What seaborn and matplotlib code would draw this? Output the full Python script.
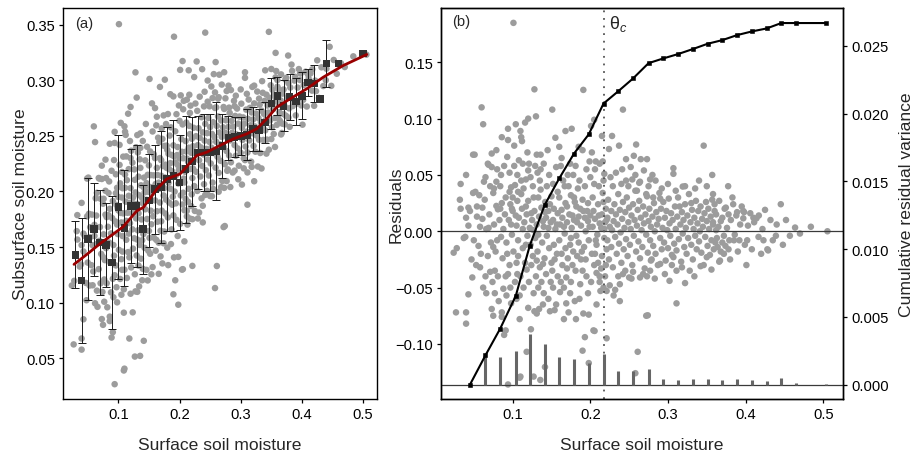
import numpy as np
import pandas as pd
import matplotlib
matplotlib.use("Agg")
import matplotlib.pyplot as plt
import seaborn as sns

# ---------------- data ----------------
# loess-like fit of subsurface vs surface soil moisture (red line, panel a)
fit_x = [0.0276, 0.050, 0.070, 0.090, 0.108, 0.130, 0.141, 0.163, 0.179, 0.2008,
         0.228, 0.2444, 0.266, 0.288, 0.310, 0.326, 0.3425, 0.3588, 0.3806, 0.4078,
         0.435, 0.4677, 0.506]
fit_y = [0.1344, 0.1440, 0.1530, 0.1610, 0.1683, 0.1824, 0.1857, 0.2022, 0.2112, 0.2157,
         0.2323, 0.2353, 0.2413, 0.2473, 0.2518, 0.2563, 0.2653, 0.2758, 0.2833, 0.2923,
         0.3028, 0.3133, 0.3232]

# observations as (surface soil moisture, residual from the fit)
pts_dry = [(0.024, -0.019), (0.028, -0.015), (0.027, -0.072), (0.032, 0.028), (0.033, 0.042),
           (0.033, 0.020), (0.037, -0.006), (0.039, -0.005), (0.040, 0.050), (0.040, 0.012),
           (0.040, -0.072), (0.040, -0.082), (0.043, -0.056), (0.043, 0.005), (0.043, 0.021),
           (0.048, -0.041), (0.049, 0.034), (0.049, 0.068), (0.051, 0.068), (0.052, 0.035),
           (0.054, 0.022), (0.054, 0.013), (0.056, -0.013), (0.057, 0.032), (0.058, -0.032),
           (0.060, 0.110), (0.061, 0.021), (0.061, 0.011), (0.062, -0.050), (0.063, 0.044),
           (0.066, 0.002), (0.066, -0.055), (0.068, 0.060), (0.069, 0.059), (0.070, 0.015),
           (0.071, -0.036), (0.072, -0.010), (0.073, 0.069), (0.073, 0.057), (0.073, -0.069),
           (0.075, 0.034), (0.075, -0.014), (0.075, -0.075), (0.076, 0.038), (0.076, 0.006),
           (0.077, -0.035), (0.077, -0.055), (0.078, -0.018), (0.079, 0.044), (0.079, 0.0225),
           (0.081, 0.0195), (0.083, 0.010), (0.085, 0.050), (0.085, -0.005), (0.086, 0.0835),
           (0.086, 0.025), (0.086, -0.072), (0.086, -0.076), (0.087, -0.024), (0.088, -0.051),
           (0.089, -0.092), (0.090, 0.015), (0.091, -0.088), (0.092, -0.010), (0.092, -0.057),
           (0.093, 0.066), (0.094, 0.091), (0.094, 0.081), (0.094, -0.038), (0.094, -0.136),
           (0.095, 0.010), (0.096, -0.030), (0.097, 0.024), (0.097, -0.050), (0.098, 0.039),
           (0.098, -0.064), (0.099, -0.003), (0.045, 0.018), (0.050, -0.008), (0.058, 0.004),
           (0.064, 0.028), (0.068, -0.022), (0.081, -0.040), (0.084, 0.040), (0.091, 0.030),
           (0.096, 0.052), (0.098, 0.006), (0.062, 0.095), (0.079, 0.072), (0.089, 0.058),
           (0.047, -0.025), (0.053, -0.030), (0.059, -0.020), (0.065, -0.040), (0.069, 0.003),
           (0.074, -0.045), (0.080, -0.008), (0.082, -0.062), (0.084, 0.020), (0.088, 0.002),
           (0.091, -0.040), (0.093, -0.020), (0.096, 0.035), (0.099, 0.020), (0.065, 0.048),
           (0.071, 0.040), (0.080, 0.055)]

pts_mid = [(0.101, 0.185), (0.102, 0.076), (0.103, 0.041), (0.104, 0.095), (0.100, 0.030),
           (0.100, 0.018), (0.105, 0.005), (0.105, -0.028), (0.106, 0.027), (0.106, -0.038),
           (0.107, -0.008), (0.108, 0.012), (0.109, -0.057), (0.109, -0.078), (0.109, -0.130),
           (0.110, 0.089), (0.110, -0.129), (0.111, 0.0835), (0.111, 0.045), (0.111, 0.033),
           (0.112, 0.080), (0.112, 0.020), (0.113, -0.015), (0.105, -0.060), (0.115, 0.008),
           (0.116, 0.0965), (0.116, -0.028), (0.117, 0.046), (0.118, 0.015), (0.118, -0.034),
           (0.118, -0.107), (0.119, -0.004), (0.120, 0.100), (0.120, 0.054), (0.120, 0.027),
           (0.120, -0.068), (0.121, 0.060), (0.122, 0.003), (0.123, -0.012), (0.1235, -0.087),
           (0.125, 0.010), (0.126, -0.022), (0.127, -0.129), (0.128, 0.126), (0.128, 0.018),
           (0.128, -0.071), (0.129, 0.058), (0.129, -0.006), (0.130, 0.102), (0.131, 0.068),
           (0.131, 0.006), (0.131, -0.026), (0.131, -0.073), (0.132, 0.052), (0.132, -0.018),
           (0.133, 0.030), (0.134, 0.013), (0.134, -0.069), (0.135, -0.032), (0.1356, -0.132),
           (0.136, 0.068), (0.136, 0.055), (0.137, 0.021), (0.138, -0.010), (0.139, -0.029),
           (0.139, -0.065), (0.140, 0.004), (0.141, -0.024), (0.1416, -0.1205), (0.142, 0.026),
           (0.143, 0.012), (0.144, -0.004), (0.145, 0.072), (0.146, 0.018), (0.147, -0.015),
           (0.148, -0.071), (0.149, 0.008), (0.150, 0.031), (0.150, -0.028), (0.151, 0.108),
           (0.152, 0.010), (0.152, -0.050), (0.153, -0.012), (0.154, -0.070), (0.155, 0.002),
           (0.155, 0.083), (0.156, 0.057), (0.156, -0.065), (0.157, -0.020), (0.158, 0.016),
           (0.160, 0.075), (0.160, 0.030), (0.160, -0.008), (0.161, 0.006), (0.161, -0.054),
           (0.162, 0.058), (0.162, -0.045), (0.164, 0.012), (0.164, -0.030), (0.165, 0.045),
           (0.166, -0.078), (0.167, -0.002), (0.168, 0.089), (0.168, 0.025), (0.168, -0.015),
           (0.169, -0.064), (0.169, -0.041), (0.170, 0.008), (0.171, -0.024), (0.172, 0.040),
           (0.172, -0.072), (0.173, 0.015), (0.175, 0.032), (0.175, -0.006), (0.175, -0.045),
           (0.176, 0.091), (0.176, 0.003), (0.178, 0.050), (0.178, -0.018), (0.179, 0.010),
           (0.180, -0.062), (0.181, -0.035), (0.1815, -0.078), (0.182, 0.022), (0.182, -0.004),
           (0.184, 0.038), (0.185, 0.075), (0.185, 0.013), (0.185, -0.010), (0.187, -0.047),
           (0.188, 0.005), (0.188, -0.025), (0.190, 0.072), (0.190, 0.028), (0.190, -0.106),
           (0.191, 0.1255), (0.191, 0.018), (0.191, -0.073), (0.192, -0.014), (0.193, -0.094),
           (0.194, 0.000), (0.195, 0.055), (0.195, -0.040), (0.196, 0.018), (0.197, 0.009),
           (0.198, -0.008), (0.198, -0.074), (0.198, -0.117), (0.200, 0.048), (0.200, 0.014),
           (0.201, 0.0935), (0.202, 0.070), (0.202, -0.020), (0.203, 0.030), (0.203, 0.004),
           (0.204, -0.088), (0.205, 0.099), (0.205, 0.042), (0.205, -0.030), (0.2055, -0.0885),
           (0.206, 0.011), (0.207, 0.062), (0.208, -0.012), (0.208, -0.065), (0.209, -0.003),
           (0.210, 0.024), (0.212, 0.060), (0.212, 0.007), (0.212, -0.045), (0.213, -0.053),
           (0.215, 0.0846), (0.215, 0.015), (0.215, -0.022), (0.216, 0.062), (0.216, 0.034),
           (0.218, 0.051), (0.218, 0.002), (0.218, -0.006), (0.219, -0.040), (0.220, 0.020),
           (0.221, 0.010), (0.221, -0.016), (0.221, -0.053), (0.221, -0.095),
           (0.104, 0.014), (0.113, 0.002), (0.117, 0.022), (0.124, 0.016), (0.127, 0.001),
           (0.133, -0.003), (0.139, 0.009), (0.142, 0.017), (0.146, 0.003), (0.148, 0.024),
           (0.153, 0.020), (0.157, 0.006), (0.163, 0.019), (0.166, 0.004), (0.170, 0.022),
           (0.174, -0.012), (0.177, 0.014), (0.180, 0.026), (0.183, 0.008), (0.187, 0.020),
           (0.189, -0.018), (0.193, 0.012), (0.197, 0.025), (0.199, 0.004), (0.204, 0.018),
           (0.207, -0.008), (0.211, 0.014), (0.214, 0.003), (0.217, 0.026), (0.219, 0.008),
           (0.171, 0.050), (0.181, 0.058), (0.144, 0.040), (0.136, 0.037), (0.126, 0.040),
           (0.113, 0.060), (0.108, 0.063), (0.106, 0.050), (0.208, -0.037), (0.212, -0.040),
           (0.101, -0.018), (0.103, -0.045), (0.107, -0.022), (0.110, -0.040), (0.114, -0.050),
           (0.117, -0.012), (0.121, -0.045), (0.124, -0.030), (0.127, -0.055), (0.130, -0.040),
           (0.133, -0.050), (0.137, -0.045), (0.140, -0.055), (0.143, -0.038), (0.146, -0.060),
           (0.149, -0.045), (0.151, -0.035), (0.154, -0.025), (0.158, -0.040), (0.163, -0.020),
           (0.166, -0.050), (0.170, -0.033), (0.174, -0.055), (0.177, -0.030), (0.183, -0.022),
           (0.186, -0.060), (0.190, -0.035), (0.194, -0.025), (0.197, -0.055), (0.201, -0.045),
           (0.206, -0.020), (0.210, -0.028), (0.214, -0.033), (0.217, -0.050), (0.220, -0.030),
           (0.102, 0.058), (0.107, 0.035), (0.114, 0.038), (0.119, 0.070), (0.123, 0.048),
           (0.127, 0.030), (0.135, 0.045), (0.140, 0.060), (0.147, 0.050), (0.152, 0.042),
           (0.158, 0.035), (0.163, 0.065), (0.167, 0.040), (0.174, 0.060), (0.179, 0.030),
           (0.186, 0.045), (0.193, 0.040), (0.199, 0.062), (0.206, 0.055), (0.211, 0.040),
           (0.217, 0.045)]

pts_wet = [(0.224, 0.073), (0.228, 0.0846), (0.229, 0.040), (0.230, -0.057), (0.237, 0.076),
           (0.238, -0.047), (0.240, 0.042), (0.242, 0.108), (0.246, 0.064), (0.246, 0.045),
           (0.252, 0.057), (0.253, -0.042), (0.254, 0.046), (0.256, 0.067), (0.258, -0.126),
           (0.259, 0.077), (0.260, 0.036), (0.261, -0.107), (0.264, 0.044), (0.264, -0.041),
           (0.265, 0.064), (0.272, 0.033), (0.272, -0.075), (0.273, 0.064), (0.274, -0.0746),
           (0.277, 0.046), (0.277, -0.035), (0.278, -0.026), (0.280, 0.050), (0.281, 0.030),
           (0.290, 0.029), (0.290, -0.029), (0.307, 0.056), (0.307, 0.051), (0.307, -0.023),
           (0.311, -0.064), (0.311, -0.035), (0.315, 0.022), (0.319, 0.0397), (0.328, -0.035),
           (0.330, 0.025), (0.346, 0.076), (0.350, -0.023), (0.358, 0.033), (0.367, -0.026),
           (0.3775, 0.040), (0.3745, 0.021), (0.378, 0.015), (0.389, 0.017), (0.398, 0.017),
           (0.397, 0.0115), (0.380, -0.025), (0.401, -0.030), (0.402, -0.008), (0.392, -0.008),
           (0.385, -0.008), (0.379, -0.008), (0.414, 0.0115), (0.425, 0.019), (0.4453, 0.024),
           (0.4217, 0.002), (0.4637, 0.0033), (0.5054, 0.000), (0.439, -0.004), (0.4166, -0.005),
           (0.428, -0.016), (0.420, -0.020), (0.429, -0.017), (0.435, -0.008), (0.457, -0.004),
           (0.360, 0.024), (0.362, 0.015), (0.358, 0.008), (0.365, 0.004), (0.370, 0.012),
           (0.372, -0.004), (0.361, -0.010), (0.364, -0.014), (0.368, -0.018), (0.372, -0.020),
           (0.374, -0.013), (0.384, 0.024), (0.397, 0.018), (0.410, 0.012), (0.366, -0.027),
           (0.225, -0.048), (0.232, -0.052), (0.236, -0.040), (0.242, -0.038), (0.250, -0.041),
           (0.255, -0.036), (0.268, -0.038), (0.273, -0.040), (0.238, -0.062), (0.245, -0.035),
           (0.283, -0.042), (0.296, -0.038), (0.305, -0.030), (0.318, -0.032), (0.334, -0.040),
           (0.342, -0.031), (0.356, -0.034), (0.302, -0.044), (0.322, -0.046),
           (0.226, 0.048), (0.233, 0.052), (0.241, 0.055), (0.249, 0.040), (0.258, 0.050),
           (0.263, 0.043), (0.269, 0.054), (0.275, 0.040), (0.284, 0.045), (0.292, 0.038),
           (0.300, 0.042), (0.310, 0.036), (0.322, 0.040), (0.335, 0.038), (0.340, 0.045),
           (0.350, 0.040), (0.357, 0.050),
           (0.222, 0.012), (0.222, -0.008), (0.223, 0.028), (0.224, -0.025), (0.225, 0.004),
           (0.227, 0.018), (0.227, -0.014), (0.228, 0.001), (0.229, -0.032), (0.230, 0.009),
           (0.231, 0.024), (0.232, -0.005), (0.233, 0.015), (0.234, -0.020), (0.235, 0.006),
           (0.236, 0.033), (0.237, -0.011), (0.238, 0.019), (0.239, -0.001), (0.240, -0.028),
           (0.241, 0.011), (0.242, 0.026), (0.243, -0.016), (0.244, 0.003), (0.245, 0.017),
           (0.246, -0.007), (0.247, 0.030), (0.248, -0.022), (0.249, 0.008), (0.250, 0.021),
           (0.251, -0.012), (0.252, 0.002), (0.253, 0.014), (0.254, -0.030), (0.255, 0.024),
           (0.256, -0.004), (0.257, 0.010), (0.258, 0.036), (0.259, -0.018), (0.260, 0.005),
           (0.261, 0.019), (0.262, -0.009), (0.263, 0.027), (0.264, -0.024), (0.265, 0.012),
           (0.266, 0.001), (0.267, -0.014), (0.268, 0.022), (0.269, 0.007), (0.270, -0.033),
           (0.271, 0.015), (0.272, -0.003), (0.273, 0.031), (0.274, -0.019), (0.275, 0.009),
           (0.276, 0.020), (0.277, -0.008), (0.278, 0.004), (0.279, -0.025), (0.280, 0.013),
           (0.281, -0.013), (0.282, 0.025), (0.283, 0.000), (0.284, -0.020), (0.285, 0.017),
           (0.286, 0.006), (0.287, -0.030), (0.288, 0.011), (0.289, 0.034), (0.290, -0.006),
           (0.291, 0.020), (0.292, -0.016), (0.293, 0.003), (0.294, 0.026), (0.295, -0.010),
           (0.296, 0.012), (0.297, -0.026), (0.298, 0.018), (0.299, 0.001), (0.300, -0.015),
           (0.301, 0.029), (0.302, 0.007), (0.303, -0.004), (0.304, 0.016), (0.305, -0.021),
           (0.306, 0.010), (0.308, -0.011), (0.309, 0.022), (0.310, 0.002), (0.311, -0.017),
           (0.312, 0.013), (0.313, 0.030), (0.314, -0.007), (0.316, 0.006), (0.317, -0.027),
           (0.318, 0.017), (0.319, -0.002), (0.320, 0.010), (0.321, -0.014), (0.322, 0.024),
           (0.323, 0.003), (0.324, -0.020), (0.325, 0.014), (0.326, -0.006), (0.327, 0.033),
           (0.329, 0.008), (0.330, -0.012), (0.331, 0.019), (0.332, -0.025), (0.333, 0.002),
           (0.334, 0.012), (0.335, -0.004), (0.336, 0.027), (0.337, -0.016), (0.338, 0.007),
           (0.339, 0.018), (0.340, -0.009), (0.341, 0.000), (0.342, 0.022), (0.343, -0.019),
           (0.344, 0.011), (0.345, 0.004), (0.346, -0.030), (0.347, 0.016), (0.348, -0.005),
           (0.349, 0.026), (0.350, 0.009), (0.351, -0.013), (0.352, 0.020), (0.353, 0.002),
           (0.354, -0.021), (0.355, 0.013), (0.356, -0.008), (0.357, 0.028), (0.358, 0.006),
           (0.359, -0.016), (0.360, 0.018), (0.362, 0.001), (0.363, -0.006), (0.366, 0.027),
           (0.368, 0.009), (0.370, -0.010), (0.373, 0.020), (0.376, 0.003), (0.378, -0.016),
           (0.381, 0.010), (0.383, 0.030), (0.386, -0.003), (0.388, 0.014), (0.390, -0.018),
           (0.393, 0.006), (0.395, 0.022), (0.399, -0.012), (0.403, 0.005), (0.406, 0.016),
           (0.408, -0.016), (0.411, 0.008), (0.417, 0.014), (0.423, -0.008), (0.432, 0.010),
           (0.440, 0.006), (0.448, -0.012), (0.452, 0.010), (0.470, -0.002), (0.484, 0.004)]

# binned means +/- sd (black squares with error bars, panel a)
bin_x = [0.03, 0.04, 0.05, 0.06, 0.07, 0.08, 0.09, 0.10, 0.11, 0.12, 0.13, 0.14, 0.15,
         0.16, 0.17, 0.18, 0.19, 0.20, 0.21, 0.22, 0.23, 0.24, 0.25, 0.26, 0.27, 0.28,
         0.29, 0.30, 0.31, 0.32, 0.33, 0.34, 0.35, 0.36, 0.37, 0.38, 0.39, 0.40, 0.41,
         0.42, 0.43, 0.44, 0.46, 0.50]
bin_mean = [0.143, 0.120, 0.157, 0.166, 0.154, 0.152, 0.136, 0.186, 0.167, 0.187, 0.187,
            0.166, 0.192, 0.202, 0.204, 0.211, 0.214, 0.208, 0.220, 0.227, 0.235, 0.235,
            0.235, 0.236, 0.241, 0.248, 0.249, 0.250, 0.251, 0.256, 0.255, 0.262, 0.279,
            0.286, 0.277, 0.285, 0.281, 0.286, 0.298, 0.297, 0.283, 0.315, 0.315, 0.324]
bin_sd = [0.030, 0.056, 0.055, 0.042, 0.047, 0.038, 0.060, 0.065, 0.052, 0.051, 0.055,
          0.040, 0.042, 0.040, 0.050, 0.047, 0.050, 0.043, 0.048, 0.040, 0.033, 0.035,
          0.035, 0.044, 0.029, 0.020, 0.018, 0.017, 0.023, 0.020, 0.019, 0.018, 0.023,
          0.017, 0.023, 0.021, 0.021, 0.021, 0.012, 0.017, 0.000, 0.021, 0.000, 0.000]

# residual variance by bin (panel b, right axis)
var_x = [0.045, 0.065, 0.084, 0.104, 0.122, 0.141, 0.160, 0.179, 0.198, 0.217, 0.236,
         0.255, 0.275, 0.294, 0.313, 0.332, 0.351, 0.370, 0.389, 0.408, 0.427, 0.446,
         0.465, 0.503]
cum_var = [0.0000, 0.00217, 0.00414, 0.00655, 0.01025, 0.01323, 0.01522, 0.01705, 0.01847,
           0.02074, 0.02165, 0.02259, 0.02372, 0.02407, 0.02439, 0.02476, 0.02515, 0.02542,
           0.02579, 0.02606, 0.02628, 0.02668, 0.02668, 0.02668]
bar_var = [0.0000, 0.00217, 0.00205, 0.00250, 0.00372, 0.00300, 0.00202, 0.00188, 0.00160,
           0.00227, 0.00101, 0.00098, 0.00113, 0.00044, 0.00035, 0.00042, 0.00044, 0.00035,
           0.00044, 0.00037, 0.00027, 0.00047, 0.00010, 0.00008]
theta_c = 0.217

# ---------------- build tables ----------------
pts = pd.DataFrame(pts_dry + pts_mid + pts_wet, columns=["surface", "residual"])
pts["subsurface"] = np.interp(pts["surface"], fit_x, fit_y) + pts["residual"]
bins = pd.DataFrame({"x": bin_x, "mean": bin_mean, "sd": bin_sd})
fit = pd.DataFrame({"x": fit_x, "y": fit_y})
var = pd.DataFrame({"x": var_x, "cum": cum_var, "bar": bar_var})

# ---------------- style ----------------
sns.set_theme(style="ticks")
plt.rcParams["font.family"] = ["Liberation Sans", "DejaVu Sans"]
plt.rcParams["mathtext.fontset"] = "custom"
plt.rcParams["mathtext.rm"] = "Liberation Sans"
plt.rcParams["mathtext.it"] = "Liberation Sans:italic"
plt.rcParams["axes.linewidth"] = 1.0
plt.rcParams["axes.edgecolor"] = "black"

TICK_FS = 10.6
LAB_FS = 12.6
GRAY = "#9c9c9c"

fig = plt.figure(figsize=(9.14, 4.56), dpi=100)
W, H = 914, 456
axa = fig.add_axes([63 / W, (H - 400) / H, 314 / W, 391 / H])
axb = fig.add_axes([441 / W, (H - 400) / H, 402.3 / W, 391 / H])

# ---------------- panel (a) ----------------
sns.scatterplot(data=pts, x="surface", y="subsurface", ax=axa, color=GRAY, s=22,
                edgecolor="none", linewidth=0, legend=False, zorder=1)
eb = bins[bins["sd"] > 0]
axa.errorbar(eb["x"], eb["mean"], yerr=eb["sd"], fmt="none", ecolor="#1a1a1a",
             elinewidth=0.7, capsize=2.6, capthick=0.7, zorder=2)
sns.scatterplot(data=bins, x="x", y="mean", ax=axa, marker="s", color="#333333", s=30,
                edgecolor="none", linewidth=0, legend=False, zorder=3)
sns.lineplot(data=fit, x="x", y="y", ax=axa, color="#990000", lw=2.0, sort=False, zorder=4)

axa.set_xlim(0.0096, 0.5227)
axa.set_ylim(0.0133, 0.365)
axa.set_xticks([0.1, 0.2, 0.3, 0.4, 0.5])
axa.set_xticklabels(["0.1", "0.2", "0.3", "0.4", "0.5"])
axa.set_yticks([0.05, 0.10, 0.15, 0.20, 0.25, 0.30, 0.35])
axa.set_yticklabels(["0.05", "0.10", "0.15", "0.20", "0.25", "0.30", "0.35"])
axa.set_xlabel("Surface soil moisture", fontsize=LAB_FS)
axa.set_ylabel("Subsurface soil moisture", fontsize=LAB_FS)
axa.xaxis.set_label_coords(0.5, -0.097)
axa.yaxis.set_label_coords(-0.113, 0.5)
axa.text(0.038, 0.962, "(a)", transform=axa.transAxes, fontsize=TICK_FS, va="center", ha="left")

# ---------------- panel (b) ----------------
sns.scatterplot(data=pts, x="surface", y="residual", ax=axb, color=GRAY, s=22,
                edgecolor="none", linewidth=0, legend=False, zorder=1)
axb.axhline(0, color="#3a3a3a", lw=0.9, zorder=2)
axb.axvline(theta_c, color="#555555", lw=1.3, ls=(0, (1, 3.2)), zorder=2)
axb.set_xlim(0.0077, 0.5258)
axb.set_ylim(-0.1489, 0.1982)
axb.set_xticks([0.1, 0.2, 0.3, 0.4, 0.5])
axb.set_xticklabels(["0.1", "0.2", "0.3", "0.4", "0.5"])
axb.set_yticks([-0.10, -0.05, 0.0, 0.05, 0.10, 0.15])
axb.set_yticklabels(["\u22120.10", "\u22120.05", "0.00", "0.05", "0.10", "0.15"])
axb.set_xlabel("Surface soil moisture", fontsize=LAB_FS)
axb.set_ylabel("Residuals", fontsize=LAB_FS)
axb.xaxis.set_label_coords(0.5, -0.097)
axb.yaxis.set_label_coords(-0.093, 0.5)
axb.text(0.0266, 0.9675, "(b)", transform=axb.transAxes, fontsize=TICK_FS, va="center", ha="left")
axb.text(theta_c + 0.0065, 0.962, r"$\mathrm{\theta}_{c}$", transform=axb.get_xaxis_transform(),
         fontsize=13, va="center", ha="left")

axc = axb.twinx()
axc.set_ylim(-0.00106, 0.02779)
axc.axhline(0, color="#3a3a3a", lw=0.9, zorder=1)
vb = var[var["bar"] > 0]
axc.vlines(vb["x"], 0, vb["bar"], color="#666666", lw=2.2, zorder=2)
sns.lineplot(data=var, x="x", y="cum", ax=axc, color="black", lw=1.5, sort=False,
             marker="s", markersize=3.2, markeredgecolor="black", markeredgewidth=0.4, zorder=3)
axc.set_yticks([0.0, 0.005, 0.010, 0.015, 0.020, 0.025])
axc.set_yticklabels(["0.000", "0.005", "0.010", "0.015", "0.020", "0.025"])
axc.set_ylabel("Cumulative residual variance", fontsize=LAB_FS)
axc.yaxis.set_label_coords(1.139, 0.5)
axc.set_xlabel("")

for ax in (axa, axb, axc):
    ax.tick_params(direction="out", length=3.2, width=0.9, pad=2.6, labelsize=TICK_FS,
                   colors="black")
    for sp in ax.spines.values():
        sp.set_visible(True)
        sp.set_color("black")
        sp.set_linewidth(1.0)

fig.savefig("out.png", dpi=100)
